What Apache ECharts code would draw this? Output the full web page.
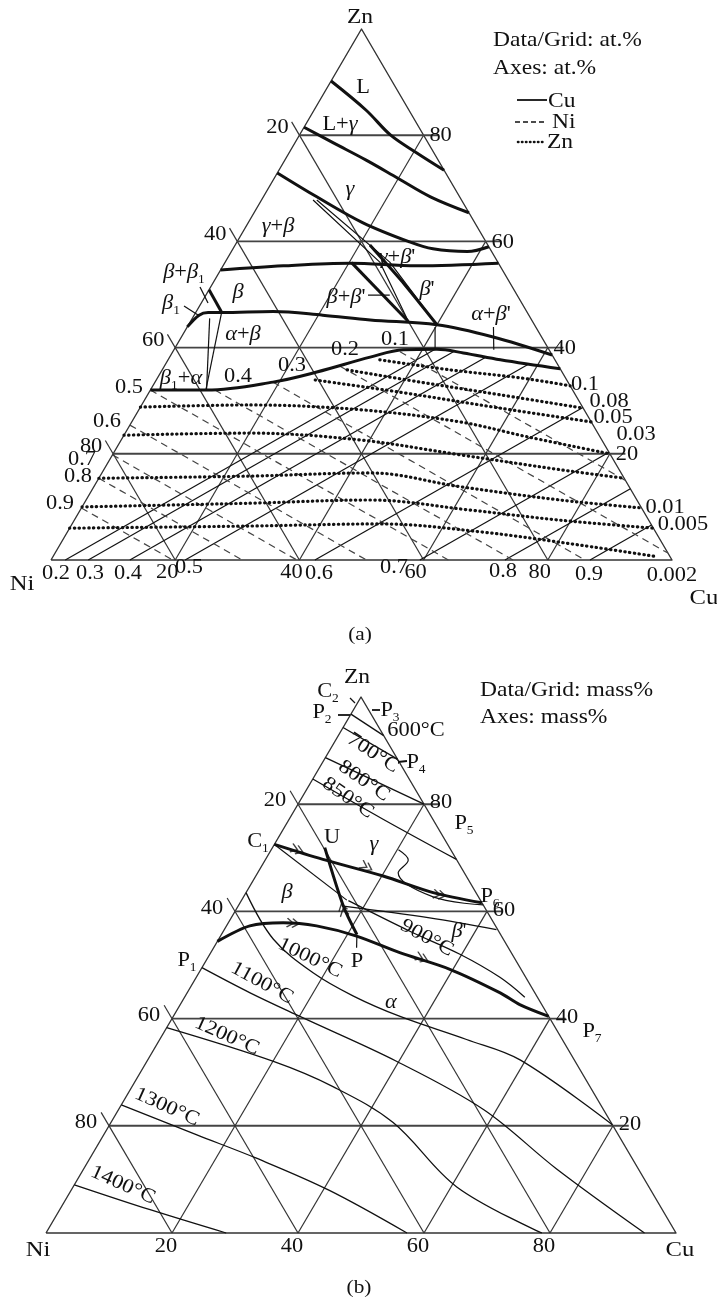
<!DOCTYPE html>
<html lang="en">
<head>
<meta charset="UTF-8">
<title>Cu-Ni-Zn</title>
<script src="https://cdn.jsdelivr.net/npm/echarts@6/dist/echarts.min.js"></script>
<style>html,body{margin:0;padding:0;background:#fff}</style>
</head>
<body>
<div id="main" style="width:717px;height:1298px"></div>
<script>
// every point is [Cu, Zn] in percent, Ni is the rest
var ticks = [20, 40, 60, 80];

// ---- (a) iso-activity lines, at.% ----
var cuLines = [ // a(Cu) = 0.2 ... 0.9
  [[2.3, 0], [42.0, 39.7]],
  [[6.0, 0], [45.2, 39.2]],
  [[12.7, 0], [50.9, 38.2]],
  [[21.6, 0], [58.4, 36.8]],
  [[42.5, 0], [71.3, 28.7]],
  [[59.4, 0], [79.7, 20.3]],
  [[73.1, 0], [86.6, 13.4]],
  [[86.8, 0], [93.4, 6.6]]
];
var niLines = [ // a(Ni) = 0.9 ... 0.1
  [[0, 9.8], [19.6, 0]],
  [[0, 15.4], [30.8, 0]],
  [[0, 19.8], [39.6, 0]],
  [[0, 25.4], [50.8, 0]],
  [[0, 32.0], [64.0, 0]],
  [[10.4, 32.0], [74.4, 0]],
  [[19.0, 33.5], [86.0, 0]],
  [[28.3, 36.5], [98.7, 1.3]],
  [[36.6, 39.2], [85.0, 15.0]]
];
var znLines = [ // a(Zn) = 0.1, 0.08, 0.05, 0.03, 0.02, 0.01, 0.005, 0.002
  [[34.1, 37.7], [46.4, 35.8], [58.4, 34.3], [67.2, 32.8]],
  [[29.8, 35.8], [42.7, 33.5], [56.8, 31.1], [71.4, 28.6]],
  [[25.6, 33.9], [40.4, 31.6], [58.0, 28.6], [74.0, 26.0]],
  [[0, 28.8], [17.5, 29.2], [35.6, 28.3], [52.9, 26.0], [65.1, 23.2], [80.0, 20.0]],
  [[0, 23.5], [20.1, 23.9], [38.5, 22.6], [56.0, 19.8], [73.5, 17.0], [84.6, 15.4]],
  [[0, 15.4], [24.1, 15.8], [43.2, 16.4], [59.0, 13.8], [76.3, 11.3], [90.2, 9.8]],
  [[0, 10.0], [26.7, 10.7], [45.7, 11.3], [62.8, 9.4], [78.2, 7.5], [94.0, 6.0]],
  [[0, 6.0], [28.9, 6.4], [49.6, 6.8], [66.5, 5.3], [83.8, 2.8], [97.4, 0.6]]
];

// ---- (a) phase boundaries ----
var aLiq = [[0, 90.2], [8.4, 84.7], [14.7, 80.0], [20.5, 76.7], [26.6, 73.4]];
var aLgam = [[0, 81.5], [6.3, 78.5], [13.1, 75.3], [19.9, 71.9], [26.9, 68.4], [34.6, 65.4]];
var aGamB = [[0, 72.9], [8.6, 68.4], [18.5, 63.5], [27.8, 59.9], [32.2, 58.6], [38.0, 58.1], [41.0, 59.0]];
var aBetaTop = [[0, 54.6], [9.7, 55.4], [20.2, 55.9], [31.2, 55.4], [44.1, 55.9]];
var aBetaLow = [[0, 43.9], [0.8, 46.1], [2.0, 46.6], [4.2, 46.6], [12.4, 46.8], [20.7, 46.1], [28.8, 45.2], [40.0, 44.3], [50.2, 42.0], [61.4, 38.6]];
var aAlpha = [[0, 32.0], [9.1, 32.0], [19.0, 33.5], [25.1, 35.4], [32.3, 38.2], [36.9, 39.6], [42.3, 39.7], [46.9, 39.0], [53.5, 37.7], [64.0, 36.0]];
var aBeta1 = [[0, 50.9], [4.2, 46.6]];
var aBBp1 = [[20.4, 56.0], [35.1, 44.9]];
var aBBp2 = [[21.7, 59.3], [31.1, 51.8], [40.0, 44.3]];
var aThin = [
  [[8.3, 67.8], [24.9, 56.1], [35.1, 44.9]],
  [[8.9, 67.8], [26.5, 56.1], [40.0, 44.3]],
  [[2.8, 45.5], [9.0, 32.1]],
  [[4.2, 46.5], [8.9, 32.1]],
  [[39.9, 43.9], [41.9, 39.9]],
  [[49.3, 43.9], [51.5, 39.6]],
  [[26.1, 49.9], [29.6, 49.9]]
];

// ---- (b) mass%, liquidus ----
var isotherms = [ // 600, 700, 800, 850, 900, 1000, 1100, 1200, 1300, 1400 °C
  [[0, 96.8], [7.2, 92.8]],
  [[0, 94.3], [11.6, 88.4]],
  [[0, 88.7], [20.0, 80.0]],
  [[0, 84.7], [14.9, 77.2], [30.3, 69.7]],
  [[17.0, 62.0], [29.6, 56.3], [39.7, 52.0], [48.2, 47.7], [54.0, 44.0]],
  [[0, 63.5], [8.7, 54.8], [18.2, 48.5], [26.7, 44.2], [36.0, 40.4], [48.7, 36.1], [59.1, 32.3], [79.8, 20.2]],
  [[0, 49.5], [10.0, 44.8], [20.1, 40.4], [39.7, 32.0], [58.0, 23.0], [75.0, 12.0], [95.0, 0]],
  [[0, 38.3], [20.1, 32.0], [31.9, 27.3], [44.8, 20.6], [60.9, 8.6], [78.7, 0]],
  [[0, 23.9], [14.8, 18.3], [26.3, 14.0], [40.9, 8.0], [57.3, 0]],
  [[0, 9.0], [14.5, 4.3], [28.6, 0]]
];
var bC1P6 = [[0, 72.5], [9.1, 69.7], [20.2, 66.6], [29.7, 63.5], [38.4, 61.6]];
var bP1P7 = [[0, 54.4], [3.7, 57.3], [8.7, 57.9], [14.3, 57.3], [21.6, 55.4], [30.0, 52.3], [39.5, 49.2], [49.7, 44.8], [53.9, 42.6], [59.6, 40.4]];
var bUP = [[8.3, 71.9], [16.7, 61.0], [21.5, 55.7]];
var bThin = [
  [[21.5, 55.7], [22.7, 53.2]],
  [[0, 72.5], [16.7, 62.1]],
  [[20.2, 71.5], [22.7, 69.6], [22.3, 67.2], [30.1, 62.7], [38.8, 61.2]],
  [[16.7, 61.0], [31.5, 58.8], [43.2, 56.6]]
];
var bArrows = [ // [position, a point further along the line]
  [[4.1, 71.5], [9.1, 69.7]],
  [[16.7, 68.3], [20.2, 66.6]],
  [[30.9, 63.1], [38.4, 61.6]],
  [[10.3, 57.8], [14.3, 57.3]],
  [[34.0, 51.3], [39.5, 49.2]],
  [[17.0, 60.3], [8.3, 71.9]]
];

var SERIF = '"Liberation Serif", "Times New Roman", serif';
var INK = '#111';

function P(p) { return [(p[0] + p[1] / 2) / 100, p[1] / 100]; }

var series = [];
function addLine(g, pts, st, smooth) {
  series.push({
    type: 'line', xAxisIndex: g, yAxisIndex: g, data: pts.map(P),
    symbol: 'none', smooth: smooth || false, clip: false, silent: true, z: st.z || 2,
    lineStyle: {color: st.color || INK, width: st.width, type: st.type || 'solid', cap: st.cap || 'butt', join: 'round'}
  });
}

[0, 1].forEach(function (g) {
  addLine(g, [[0, 0], [100, 0], [0, 100], [0, 0]], {width: 1.4, color: '#333'});
  ticks.forEach(function (k) {
    addLine(g, [[0, k], [102.5 - k, k]], {width: 1.9, color: '#444'});
    addLine(g, [[-2.5, 102.5 - k], [100 - k, 0]], {width: 1.2, color: '#333'});
    addLine(g, [[k, 0], [k, 100 - k]], {width: 1.2, color: '#333'});
  });
});

cuLines.forEach(function (l) { addLine(0, l, {width: 1.2}); });
niLines.forEach(function (l) { addLine(0, l, {width: 1.2, type: [7, 5], color: '#444'}); });
znLines.forEach(function (l) { addLine(0, l, {width: 3.2, type: [0.4, 4.4], cap: 'round', z: 3}, 0.35); });
[aLiq, aLgam, aGamB, aBetaTop, aBetaLow, aAlpha].forEach(function (l) { addLine(0, l, {width: 3, z: 4}, 0.35); });
[aBeta1, aBBp1, aBBp2].forEach(function (l) { addLine(0, l, {width: 3, z: 4}, 0.2); });
aThin.forEach(function (l) { addLine(0, l, {width: 1.2}); });

isotherms.forEach(function (l) { addLine(1, l, {width: 1.3}, 0.35); });
[bC1P6, bP1P7, bUP].forEach(function (l) { addLine(1, l, {width: 3, z: 4}, 0.3); });
bThin.forEach(function (l) { addLine(1, l, {width: 1.2}, 0.35); });

series.push({
  id: 'arrows', type: 'scatter', xAxisIndex: 1, yAxisIndex: 1, silent: true, z: 5,
  symbol: 'path://M0,0L6,4L0,8M5,0L11,4L5,8', symbolSize: [12, 9],
  itemStyle: {color: 'rgba(0,0,0,0)', borderColor: INK, borderWidth: 1.4},
  data: bArrows.map(function (a) { return P(a[0]); })
});

var chart = echarts.init(document.getElementById('main'));
chart.setOption({
  animation: false,
  backgroundColor: '#fff',
  grid: [
    {left: 51, top: 29, width: 621, height: 531, outerBoundsMode: 'none'},
    {left: 46, top: 697, width: 630, height: 536, outerBoundsMode: 'none'}
  ],
  xAxis: [{gridIndex: 0, type: 'value', min: 0, max: 1, show: false}, {gridIndex: 1, type: 'value', min: 0, max: 1, show: false}],
  yAxis: [{gridIndex: 0, type: 'value', min: 0, max: 1, show: false}, {gridIndex: 1, type: 'value', min: 0, max: 1, show: false}],
  series: series
});

// ---- text ----
function rich(size) {
  var lh = Math.round(size * 1.3);
  return {
    i: {fontSize: size, fontFamily: SERIF, fontStyle: 'italic', fill: INK, lineHeight: lh},
    s: {fontSize: Math.round(size * 0.6), fontFamily: SERIF, fill: INK, verticalAlign: 'bottom', lineHeight: Math.round(size * 0.6)}
  };
}
function T(s, x, y, o) {
  o = o || {};
  var size = o.size || 20;
  return {
    type: 'text', x: x, y: y, rotation: o.rot || 0, scaleX: 1.12, silent: true, z: 10,
    style: {text: s, fontSize: size, fontFamily: SERIF, fill: INK, lineHeight: Math.round(size * 1.3),
      textAlign: o.align || 'center', textVerticalAlign: 'middle', rich: rich(size)}
  };
}
function L(x1, y1, x2, y2, st) {
  return {type: 'line', silent: true, z: 10, shape: {x1: x1, y1: y1, x2: x2, y2: y2},
    style: Object.assign({stroke: INK, lineWidth: 1.8}, st || {})};
}

var g = [];
// axis numbers, placed through the grids
var edgeOff = [
  {left: [-22, -7], right: [17, 1], bottom: [-8, 13]},
  {left: [-23, -3], right: [17, -1], bottom: [-6, 14]}
];
[0, 1].forEach(function (gi) {
  ticks.forEach(function (k) {
    var o = edgeOff[gi];
    var pl = chart.convertToPixel({gridIndex: gi}, P([0, 100 - k]));
    var pr = chart.convertToPixel({gridIndex: gi}, P([100 - k, k]));
    var pb = chart.convertToPixel({gridIndex: gi}, P([k, 0]));
    g.push(T(String(k), pl[0] + o.left[0], pl[1] + o.left[1]));
    g.push(T(String(k), pr[0] + o.right[0], pr[1] + o.right[1]));
    g.push(T(String(k), pb[0] + o.bottom[0], pb[1] + o.bottom[1]));
  });
});

// (a) labels
g.push(
  T('Zn', 360, 17, {size: 21}), T('Ni', 22, 584, {size: 22}), T('Cu', 704, 598, {size: 22}),
  T('Data/Grid: at.%', 493, 40, {size: 21, align: 'left'}), T('Axes: at.%', 493, 68, {size: 21, align: 'left'}),
  L(517, 100, 547, 100, {lineWidth: 1.8}), T('Cu', 548, 101, {size: 21, align: 'left'}),
  L(515, 122, 547, 122, {lineWidth: 1.4, lineDash: [5, 3]}), T('Ni', 552, 122, {size: 21, align: 'left'}),
  L(518, 142, 545, 142, {lineWidth: 2.6, lineDash: [0.4, 3.6], lineCap: 'round'}), T('Zn', 547, 142, {size: 21, align: 'left'}),
  T('L', 363, 88), T('L+{i|γ}', 340, 125), T('{i|γ}', 350, 190), T('{i|γ}+{i|β}', 278, 227),
  T("{i|γ}+{i|β}'", 397, 258), T("{i|β}'", 427, 290), T("{i|β}+{i|β}'", 346, 298), T('{i|β}', 238, 293),
  T('{i|β}+{i|β}{s|1}', 184, 273), T('{i|β}{s|1}', 171, 304), T('{i|α}+{i|β}', 243, 335),
  T("{i|α}+{i|β}'", 491, 315), T('{i|β}{s|1}+{i|α}', 181, 379),
  T('0.4', 238, 377), T('0.3', 292, 366), T('0.2', 345, 350), T('0.1', 395, 340),
  T('0.5', 129, 388), T('0.6', 107, 422), T('0.7', 82, 460), T('0.8', 78, 477), T('0.9', 60, 504),
  T('0.1', 585, 385), T('0.08', 609, 402), T('0.05', 613, 418), T('0.03', 636, 435),
  T('0.01', 665, 508), T('0.005', 683, 525),
  T('0.2', 56, 574), T('0.3', 90, 574), T('0.4', 128, 574), T('0.5', 189, 568), T('0.6', 319, 574),
  T('0.7', 394, 568), T('0.8', 503, 572), T('0.9', 589, 575), T('0.002', 672, 576),
  T('(a)', 360, 635, {size: 19}),
  L(200, 287, 208, 303, {lineWidth: 1.2}), L(184, 306, 198, 315, {lineWidth: 1.2})
);

// (b) labels
g.push(
  T('Zn', 357, 677, {size: 21}), T('Ni', 38, 1250, {size: 22}), T('Cu', 680, 1250, {size: 22}),
  T('Data/Grid: mass%', 480, 690, {size: 21, align: 'left'}), T('Axes: mass%', 480, 717, {size: 21, align: 'left'}),
  T('C{s|2}', 328, 692), T('P{s|2}', 322, 713), T('P{s|3}', 390, 711), L(338, 715, 350, 715), L(372, 710, 380, 710),
  L(350, 698, 355, 703, {lineWidth: 1.2}),
  T('600°C', 416, 731), T('700°C', 373, 753, {rot: -0.58}), T('P{s|4}', 416, 763), L(398, 762, 407, 761),
  T('800°C', 364, 781, {rot: -0.6}), T('850°C', 348, 798, {rot: -0.6}),
  T('P{s|5}', 464, 824), T('C{s|1}', 258, 842), T('U', 332, 838), T('{i|γ}', 374, 845),
  T('{i|β}', 287, 893), T('P{s|6}', 490, 897), T("{i|β}'", 459, 932),
  T('900°C', 427, 938, {rot: -0.5}), T('1000°C', 310, 958, {rot: -0.45}), T('P', 357, 962),
  T('P{s|1}', 187, 961), T('1100°C', 262, 983, {rot: -0.5}), T('{i|α}', 391, 1003),
  T('1200°C', 227, 1036, {rot: -0.42}), T('P{s|7}', 592, 1032), T('1300°C', 167, 1107, {rot: -0.42}),
  T('1400°C', 123, 1185, {rot: -0.42}),
  T('(b)', 359, 1288, {size: 19})
);

// arrow heads follow the direction of their line
var arrowData = bArrows.map(function (a) {
  var p1 = chart.convertToPixel({gridIndex: 1}, P(a[0]));
  var p2 = chart.convertToPixel({gridIndex: 1}, P(a[1]));
  var ang = Math.atan2(-(p2[1] - p1[1]), p2[0] - p1[0]) * 180 / Math.PI;
  return {value: P(a[0]), symbolRotate: ang};
});

chart.setOption({series: [{id: 'arrows', data: arrowData}], graphic: {elements: g}});
</script>
</body>
</html>
